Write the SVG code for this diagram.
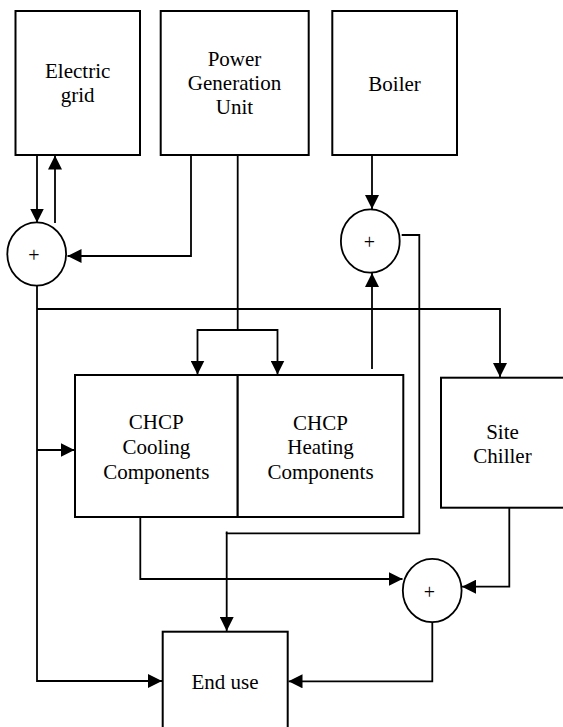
<svg xmlns="http://www.w3.org/2000/svg" width="563" height="727" viewBox="0 0 563 727">
<style>
.box{fill:#fff;stroke:#000;stroke-width:2}
.sum{fill:#fff;stroke:#000;stroke-width:1.8}
.lbl{font-size:21px;fill:#000;text-anchor:middle}
.plus{font-size:20px;fill:#000;text-anchor:middle}
.c{fill:none;stroke:#000;stroke-width:1.8}
.a{marker-end:url(#arr)}
</style>
<defs>
<marker id="arr" viewBox="0 0 14 14" refX="14" refY="7" markerWidth="14" markerHeight="14" orient="auto" markerUnits="userSpaceOnUse">
<path d="M0,0 L14,7 L0,14 z" fill="#000"/>
</marker>
</defs>
<rect width="563" height="727" fill="#fff"/>
<g id="connectors">
<path class="c a" d="M37,155 V222.5"/>
<path class="c a" d="M55,223 V155.5"/>
<path class="c a" d="M191,155 V256 H67.5"/>
<path class="c a" d="M237.7,155 V330 H197.5 V374.5"/>
<path class="c a" d="M237.7,330 H277.5 V374.5"/>
<path class="c a" d="M37,286 V681 H162"/>
<path class="c a" d="M37,309 H500 V377"/>
<path class="c a" d="M37,450 H74.5"/>
<path class="c a" d="M372,155 V209"/>
<path class="c a" d="M372,369 V273"/>
<path class="c a" d="M401.7,235 H419.3 V533.3 H226.7 V631"/>
<path class="c" d="M226.7,531.5 V534"/>
<path class="c a" d="M140.3,517 V579 H402.5"/>
<path class="c a" d="M509.3,508 V586.7 H462"/>
<path class="c a" d="M432.3,622 V681.3 H288.5"/>
</g>
<g font-family="'Liberation Serif', 'DejaVu Serif', serif">
<g id="electric-grid">
<rect class="box" x="15.5" y="11" width="124.5" height="144"/>
<text class="lbl" x="77.7" y="78.3">Electric</text>
<text class="lbl" x="77.7" y="101.7">grid</text>
</g>
<g id="power-generation-unit">
<rect class="box" x="160.7" y="11" width="148" height="144"/>
<text class="lbl" x="234.5" y="65.7">Power</text>
<text class="lbl" x="234.5" y="90">Generation</text>
<text class="lbl" x="234.5" y="114.3">Unit</text>
</g>
<g id="boiler">
<rect class="box" x="332.3" y="11" width="124.7" height="144"/>
<text class="lbl" x="394.6" y="90.7">Boiler</text>
</g>
<g id="sum-electric">
<ellipse class="sum" cx="36.7" cy="254" rx="29.4" ry="31.7"/>
<text class="plus" x="34" y="262">+</text>
</g>
<g id="sum-heat">
<ellipse class="sum" cx="370.3" cy="241" rx="29.4" ry="31.7"/>
<text class="plus" x="369.5" y="249">+</text>
</g>
<g id="chcp-cooling">
<rect class="box" x="75" y="375" width="162.7" height="142"/>
<text class="lbl" x="156.3" y="429">CHCP</text>
<text class="lbl" x="156.3" y="454">Cooling</text>
<text class="lbl" x="156.3" y="479">Components</text>
</g>
<g id="chcp-heating">
<rect class="box" x="237.7" y="375" width="165.6" height="142"/>
<text class="lbl" x="320.5" y="430">CHCP</text>
<text class="lbl" x="320.5" y="454">Heating</text>
<text class="lbl" x="320.5" y="478.5">Components</text>
</g>
<g id="site-chiller">
<rect class="box" x="441" y="377.7" width="130" height="130"/>
<text class="lbl" x="502.5" y="439">Site</text>
<text class="lbl" x="502.5" y="462.7">Chiller</text>
</g>
<g id="sum-cooling">
<ellipse class="sum" cx="432.2" cy="590.5" rx="29.4" ry="31.7"/>
<text class="plus" x="429.5" y="598.5">+</text>
</g>
<g id="end-use">
<rect class="box" x="162.7" y="631.7" width="125" height="110"/>
<text class="lbl" x="225" y="689.3">End use</text>
</g>
</g>
</svg>
